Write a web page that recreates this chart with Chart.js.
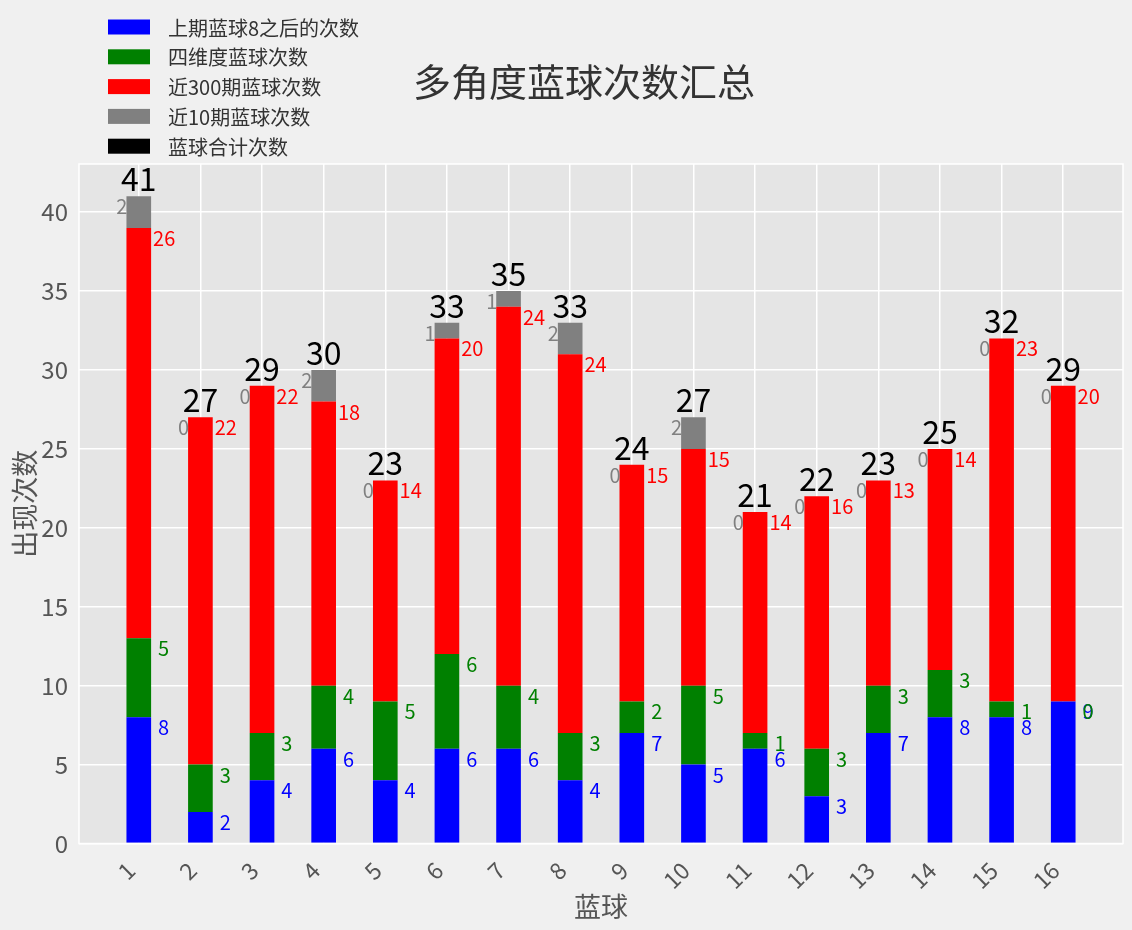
<!DOCTYPE html>
<html><head><meta charset="utf-8">
<script src="https://cdn.jsdelivr.net/npm/chart.js@4.4.0/dist/chart.umd.min.js"></script>
<style>html,body{margin:0;padding:0;background:#f0f0f0;} canvas{display:block;}</style>
</head><body>
<canvas id="c" width="1132" height="930"></canvas>
<script>
// ---- data ----
const categories = [1,2,3,4,5,6,7,8,9,10,11,12,13,14,15,16];
const blueVals  = [8,2,4,6,4,6,6,4,7,5,6,3,7,8,8,9];
const greenVals = [5,3,3,4,5,6,4,3,2,5,1,3,3,3,1,0];
const redVals   = [26,22,22,18,14,20,24,24,15,15,14,16,13,14,23,20];
const grayVals  = [2,0,0,2,0,1,1,2,0,2,0,0,0,0,0,0];
const totalVals = [41,27,29,30,23,33,35,33,24,27,21,22,23,25,32,29];
const yTicks = [0,5,10,15,20,25,30,35,40];
const seriesNames = ['上期蓝球8之后的次数','四维度蓝球次数','近300期蓝球次数','近10期蓝球次数','蓝球合计次数'];
const seriesColors = ['#0000ff','#008000','#ff0000','#808080','#000000'];
const titleText = '多角度蓝球次数汇总';
const xTitle = '蓝球';
const yTitle = '出现次数';

const FONT = "'Noto Sans CJK SC', 'Noto Sans', sans-serif";
Chart.defaults.font.family = FONT;

const stackVals = [blueVals, greenVals, redVals, grayVals];
const datasets = stackVals.map((vals, k) => ({
  label: seriesNames[k],
  data: categories.map((c, i) => ({x: c, y: vals[i]})),
  backgroundColor: seriesColors[k],
  borderWidth: 0,
  barPercentage: 0.4,
  categoryPercentage: 1.0
}));

const decoPlugin = {
  id: 'deco',
  beforeDraw(chart) {
    const {ctx, chartArea: a} = chart;
    ctx.save();
    ctx.fillStyle = '#f0f0f0';
    ctx.fillRect(0, 0, chart.width, chart.height);
    ctx.fillStyle = '#e5e5e5';
    ctx.fillRect(a.left, a.top, a.right - a.left, a.bottom - a.top);
    ctx.restore();
  },
  afterDatasetsDraw(chart) {
    const {ctx} = chart;
    const xs = chart.scales.x, ys = chart.scales.y;
    ctx.save();
    const segFont = '20px ' + FONT;
    categories.forEach((c, i) => {
      const bar = chart.getDatasetMeta(0).data[i];
      const half = bar.width / 2;
      const cx = xs.getPixelForValue(c);
      const cum1 = blueVals[i];
      const cum2 = cum1 + greenVals[i];
      const cum3 = cum2 + redVals[i];
      const cum4 = cum3 + grayVals[i];
      ctx.font = segFont;
      ctx.textBaseline = 'alphabetic';
      ctx.textAlign = 'left';
      ctx.fillStyle = seriesColors[0];
      ctx.fillText(String(blueVals[i]), cx + half + 7, ys.getPixelForValue(cum1) + 18);
      ctx.fillStyle = seriesColors[1];
      ctx.fillText(String(greenVals[i]), cx + half + 7, ys.getPixelForValue(cum2) + 18);
      ctx.fillStyle = seriesColors[2];
      ctx.fillText(String(redVals[i]), cx + half + 2, ys.getPixelForValue(cum3) + 18);
      ctx.textAlign = 'right';
      ctx.fillStyle = seriesColors[3];
      ctx.fillText(String(grayVals[i]), cx - half + 1, ys.getPixelForValue(cum4) + 18);
      ctx.textAlign = 'center';
      ctx.fillStyle = '#000';
      ctx.font = '32px ' + FONT;
      ctx.fillText(String(totalVals[i]), cx, ys.getPixelForValue(totalVals[i]) - 5);
    });
    ctx.restore();
  },
  afterDraw(chart) {
    const {ctx, chartArea: a} = chart;
    ctx.save();
    ctx.strokeStyle = '#ffffff';
    ctx.lineWidth = 1.5;
    ctx.strokeRect(a.left, a.top, a.right - a.left, a.bottom - a.top);
    // title
    ctx.fillStyle = '#333333';
    ctx.font = '38px ' + FONT;
    ctx.textAlign = 'center';
    ctx.textBaseline = 'middle';
    ctx.fillText(titleText, 584, 82);
    // legend
    ctx.font = '20px ' + FONT;
    ctx.textAlign = 'left';
    seriesNames.forEach((n, k) => {
      const cy = 27 + k * 29.8;
      ctx.fillStyle = seriesColors[k];
      ctx.fillRect(108, cy - 7.5, 42, 15);
      ctx.fillStyle = '#333333';
      ctx.fillText(n, 168, cy + 1);
    });
    ctx.restore();
  }
};

new Chart(document.getElementById('c'), {
  type: 'bar',
  data: { datasets },
  plugins: [decoPlugin],
  options: {
    responsive: false,
    animation: false,
    devicePixelRatio: 1,
    layout: { padding: { left: 0, right: 9, top: 164, bottom: 0 } },
    plugins: { legend: { display: false }, title: { display: false }, tooltip: { enabled: false } },
    scales: {
      x: {
        type: 'linear',
        stacked: true,
        offset: false,
        min: 0.03,
        max: 16.97,
        afterBuildTicks: s => { s.ticks = categories.map(v => ({value: v})); },
        afterFit: s => { s.height = 86.5; },
        grid: { color: '#ffffff', lineWidth: 1.5, drawTicks: false, offset: false },
        border: { display: false },
        ticks: {
          autoSkip: false, minRotation: 45, maxRotation: 45, padding: 13, labelOffset: -8,
          color: '#555555', font: { size: 23 },
          callback: v => String(v)
        },
        title: { display: true, text: xTitle, color: '#555555', font: { size: 27 }, padding: { top: 0, bottom: 7 } }
      },
      y: {
        stacked: true,
        min: 0,
        max: 43.05,
        afterBuildTicks: s => { s.ticks = yTicks.map(v => ({value: v})); },
        afterFit: s => { s.width = 79; },
        grid: { color: '#ffffff', lineWidth: 1.5, drawTicks: false },
        border: { display: false },
        ticks: { padding: 11, color: '#555555', font: { size: 24 } },
        title: { display: true, text: yTitle, color: '#555555', font: { size: 27 }, padding: { top: 9, bottom: 0 } }
      }
    }
  }
});
</script>
</body></html>
